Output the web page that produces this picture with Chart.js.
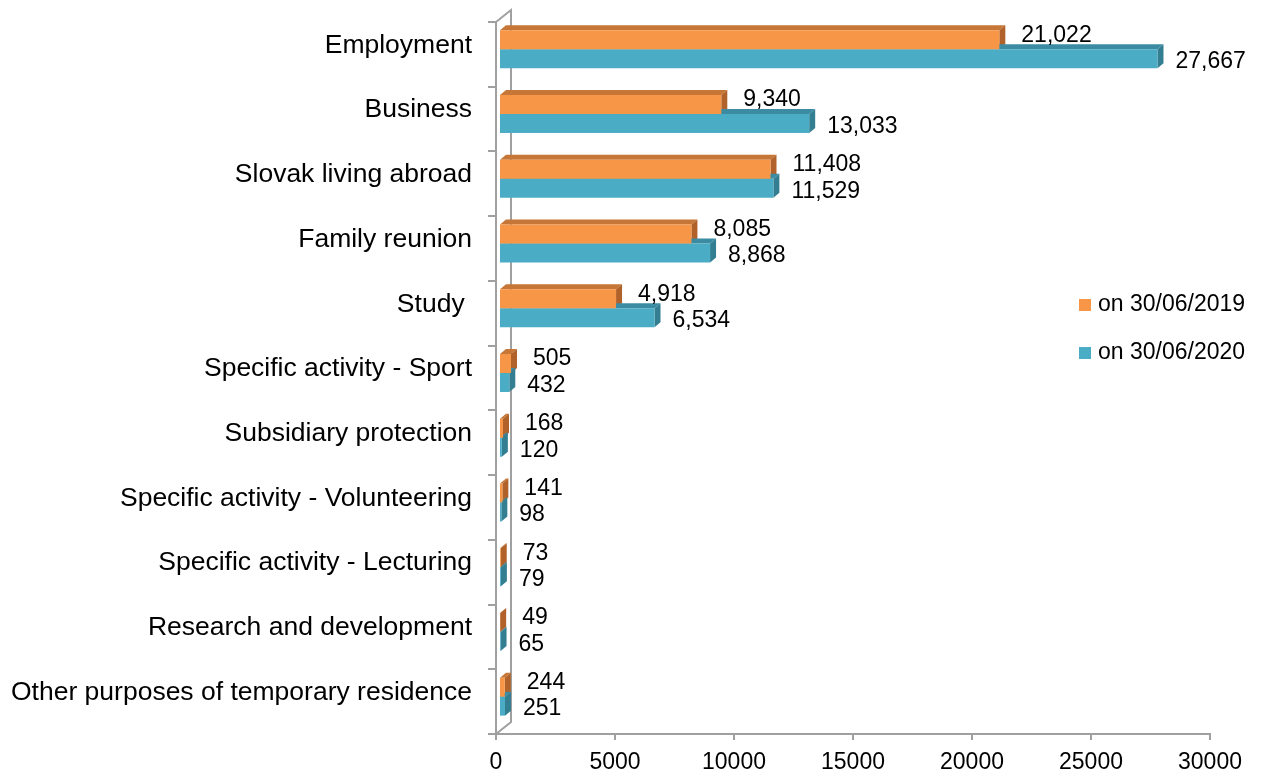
<!DOCTYPE html>
<html><head><meta charset="utf-8">
<script src="https://cdn.jsdelivr.net/npm/chart.js@4/dist/chart.umd.min.js"></script>
<style>html,body{margin:0;padding:0;background:#fff;overflow:hidden}</style>
</head><body>
<canvas id="c" width="1264" height="774" style="width:1264px;height:774px;display:block"></canvas>
<script>
const categories = ["Employment","Business","Slovak living abroad","Family reunion","Study ","Specific activity - Sport","Subsidiary protection","Specific activity - Volunteering","Specific activity - Lecturing","Research and development","Other purposes of temporary residence"];
const series2019 = [21022,9340,11408,8085,4918,505,168,141,73,49,244];
const series2020 = [27667,13033,11529,8868,6534,432,120,98,79,65,251];
const seriesNames = ["on 30/06/2019","on 30/06/2020"];
const xMin = 0, xMax = 30000, xStep = 5000;

const FONT = '"Liberation Sans", Arial, sans-serif';
const GRAY = '#A0A0A0';
const SHIFT = {x: 3, y: -5};
const DEPTH = {x: 6, y: 5};
const faces = [
  {front:'#F79646', top:'#C67636', side:'#B1622A', labelDx:22, labelDy:-4.5},
  {front:'#4BACC6', top:'#3B8CA2', side:'#347E92', labelDx:18, labelDy:3}
];

const threeD = {
  id: 'threeD',
  beforeDatasetsDraw(chart) {
    const ctx = chart.ctx, a = chart.chartArea;
    ctx.save();
    ctx.strokeStyle = GRAY; ctx.lineWidth = 2;
    ctx.beginPath();
    ctx.moveTo(a.left, a.top);
    ctx.lineTo(a.left + 15, a.top - 12);
    ctx.lineTo(a.left + 15, a.bottom - 12);
    ctx.lineTo(a.left, a.bottom);
    ctx.stroke();
    ctx.translate(SHIFT.x, SHIFT.y);
    chart.data.datasets.forEach((ds, i) => {
      const meta = chart.getDatasetMeta(i);
      meta.data.forEach(el => {
        const p = el.getProps(['x','y','base','height'], true);
        const t = p.y - p.height/2, b = p.y + p.height/2;
        const x0 = p.base, x1 = p.x;
        ctx.fillStyle = faces[i].top;
        ctx.beginPath();
        ctx.moveTo(x0, t); ctx.lineTo(x1, t); ctx.lineTo(x1 + DEPTH.x, t - DEPTH.y); ctx.lineTo(x0 + DEPTH.x, t - DEPTH.y); ctx.closePath(); ctx.fill();
        ctx.fillStyle = faces[i].side;
        ctx.beginPath();
        ctx.moveTo(x1, t); ctx.lineTo(x1 + DEPTH.x, t - DEPTH.y); ctx.lineTo(x1 + DEPTH.x, b - DEPTH.y); ctx.lineTo(x1, b); ctx.closePath(); ctx.fill();
      });
    });
    ctx.restore();
    ctx.save();
    ctx.translate(SHIFT.x, SHIFT.y);
  },
  afterDatasetsDraw(chart) {
    const ctx = chart.ctx;
    ctx.restore();
    ctx.save();
    ctx.font = '23px ' + FONT;
    ctx.fillStyle = '#000';
    ctx.textAlign = 'left';
    ctx.textBaseline = 'middle';
    chart.data.datasets.forEach((ds, i) => {
      const meta = chart.getDatasetMeta(i);
      meta.data.forEach((el, j) => {
        const p = el.getProps(['x','y'], true);
        ctx.fillText(ds.data[j].toLocaleString('en-US'), p.x + SHIFT.x + faces[i].labelDx, p.y + SHIFT.y + faces[i].labelDy);
      });
    });
    chart.data.datasets.forEach((ds, i) => {
      const cy = 305 + i * 48;
      ctx.fillStyle = ds.backgroundColor;
      ctx.fillRect(1079, cy - 6, 12, 12);
      ctx.fillStyle = '#000';
      ctx.fillText(ds.label, 1098, cy);
    });
    ctx.restore();
  }
};

new Chart(document.getElementById('c'), {
  type: 'bar',
  data: {
    labels: categories,
    datasets: [
      {label: seriesNames[0], data: series2019, backgroundColor: faces[0].front, borderWidth: 0},
      {label: seriesNames[1], data: series2020, backgroundColor: faces[1].front, borderWidth: 0}
    ]
  },
  options: {
    indexAxis: 'y',
    responsive: false,
    animation: false,
    events: [],
    categoryPercentage: 0.587,
    barPercentage: 1.0,
    layout: {padding: {top: 22, right: 54, left: 0, bottom: 0}},
    plugins: {legend: {display: false}, tooltip: {enabled: false}},
    scales: {
      x: {
        min: xMin, max: xMax,
        ticks: {stepSize: xStep, color: '#000', font: {family: FONT, size: 23}, padding: 9, callback: v => String(v), maxRotation: 0},
        grid: {drawOnChartArea: false, drawTicks: true, tickLength: 6, color: GRAY, lineWidth: 2},
        border: {display: true, color: GRAY, width: 2},
        afterFit(s) { s.height = 40; }
      },
      y: {
        ticks: {color: '#000', font: {family: FONT, size: 26.5, lineHeight: 0.4}, padding: 16, labelOffset: -9},
        grid: {drawOnChartArea: false, drawTicks: true, tickLength: 8, color: GRAY, lineWidth: 2, offset: true},
        border: {display: true, color: GRAY, width: 2},
        afterFit(s) { s.width = 496; }
      }
    }
  },
  plugins: [threeD]
});
</script>
</body></html>
